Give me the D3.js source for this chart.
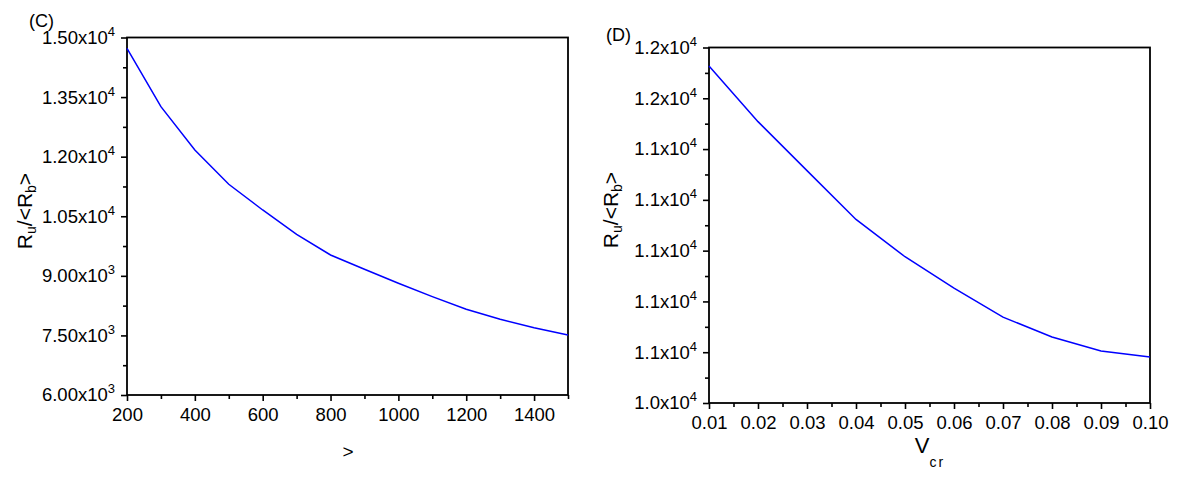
<!DOCTYPE html>
<html>
<head>
<meta charset="utf-8">
<script src="https://cdn.jsdelivr.net/npm/d3@7"></script>
<style>
  body { margin: 0; background: #fff; }
  svg { display: block; font-family: "Liberation Sans", Arial, sans-serif; }
  .tick line { stroke: #000; stroke-width: 1.6; }
</style>
</head>
<body>
<div id="chart"></div>
<script>
// Panel C data
const cX = [200, 300, 400, 500, 600, 700, 800, 900, 1000, 1100, 1200, 1300, 1400, 1500];
const cY = [14728, 13258, 12168, 11305, 10658, 10046, 9525, 9165, 8813, 8476, 8158, 7907, 7695, 7511];
const cXTicks = [200, 400, 600, 800, 1000, 1200, 1400];
const cXMinor = [300, 500, 700, 900, 1100, 1300, 1500];
const cYTicks = [6000, 7500, 9000, 10500, 12000, 13500, 15000];
const cYMinor = [6750, 8250, 9750, 11250, 12750, 14250];

// Panel D data
const dX = [0.01, 0.02, 0.03, 0.04, 0.05, 0.06, 0.07, 0.08, 0.09, 0.10];
const dY = [11727, 11508, 11315, 11123, 10976, 10852, 10738, 10660, 10605, 10581];
const dXTicks = [0.01, 0.02, 0.03, 0.04, 0.05, 0.06, 0.07, 0.08, 0.09, 0.10];
const dXMinor = [0.015, 0.025, 0.035, 0.045, 0.055, 0.065, 0.075, 0.085, 0.095];
const dYTicks = [10400, 10600, 10800, 11000, 11200, 11400, 11600, 11800];
const dYMinor = [10500, 10700, 10900, 11100, 11300, 11500, 11700];

const width = 1181;
const height = 480;
const font = "Liberation Sans, Arial, sans-serif";

const svg = d3.select("#chart")
    .append("svg")
    .attr("width", width)
    .attr("height", height);

// "1.50x10" + superscript exponent
function sciLabel(sel, digits) {
    sel.each(function(d) {
        const e = Math.floor(Math.log10(d));
        const m = (d / Math.pow(10, e)).toFixed(digits);
        const t = d3.select(this).text(null);
        t.append("tspan").text(m + "x10");
        t.append("tspan").attr("font-size", 13).attr("dy", -8).text(e);
    });
}

function styleAxis(g) {
    g.attr("font-size", 18.5).attr("font-family", font);
    g.select(".domain").remove();
    g.selectAll(".tick text").attr("fill", "#000");
}

function drawPanel(p) {
    const x = d3.scaleLinear().domain(p.xDomain).range([p.left, p.right]);
    const y = d3.scaleLinear().domain(p.yDomain).range([p.bottom, p.top]);

    // frame
    svg.append("rect")
        .attr("x", p.left).attr("y", p.top)
        .attr("width", p.right - p.left).attr("height", p.bottom - p.top)
        .attr("fill", "none").attr("stroke", "#000").attr("stroke-width", 1.8);

    // minor ticks
    svg.append("g")
        .attr("transform", `translate(0,${p.bottom})`)
        .call(d3.axisBottom(x).tickValues(p.xMinor).tickSize(4).tickFormat(""))
        .call(styleAxis);
    svg.append("g")
        .attr("transform", `translate(${p.left},0)`)
        .call(d3.axisLeft(y).tickValues(p.yMinor).tickSize(4).tickFormat(""))
        .call(styleAxis);

    // major ticks
    svg.append("g")
        .attr("transform", `translate(0,${p.bottom})`)
        .call(d3.axisBottom(x).tickValues(p.xTicks).tickSize(6).tickPadding(7).tickFormat(p.xFormat))
        .call(styleAxis);
    svg.append("g")
        .attr("transform", `translate(${p.left},0)`)
        .call(d3.axisLeft(y).tickValues(p.yTicks).tickSize(6).tickPadding(6))
        .call(styleAxis)
        .call(g => g.selectAll(".tick text").call(sciLabel, p.yDigits));

    // curve
    const line = d3.line()
        .x((d, i) => x(p.xs[i]))
        .y(d => y(d));
    svg.append("path")
        .datum(p.ys)
        .attr("d", line)
        .attr("fill", "none")
        .attr("stroke", "#0000ff")
        .attr("stroke-width", 1.5);

    // y title
    const yt = svg.append("text")
        .attr("transform", `translate(${p.yTitleX},${p.yTitleY}) rotate(-90)`)
        .attr("text-anchor", "middle")
        .attr("font-size", 21);
    yt.append("tspan").text("R");
    yt.append("tspan").attr("font-size", 14).attr("dy", 4).text("u");
    yt.append("tspan").attr("dy", -4).text("/<R");
    yt.append("tspan").attr("font-size", 14).attr("dy", 4).text("b");
    yt.append("tspan").attr("dy", -4).text(">");

    // panel letter
    svg.append("text")
        .attr("x", p.tagX).attr("y", p.tagY)
        .attr("font-size", 18)
        .text(p.tag);
}

drawPanel({
    xs: cX, ys: cY,
    xDomain: [200, 1500], yDomain: [6000, 15000],
    left: 127, right: 568, top: 37.5, bottom: 395,
    xTicks: cXTicks, xMinor: cXMinor, yTicks: cYTicks, yMinor: cYMinor,
    xFormat: d3.format("d"), yDigits: 2,
    yTitleX: 32, yTitleY: 211,
    tag: "(C)", tagX: 29, tagY: 27
});

drawPanel({
    xs: dX, ys: dY,
    xDomain: [0.01, 0.10], yDomain: [10400, 11800],
    left: 709, right: 1150, top: 47.5, bottom: 403,
    xTicks: dXTicks, xMinor: dXMinor, yTicks: dYTicks, yMinor: dYMinor,
    xFormat: d3.format(".2f"), yDigits: 1,
    yTitleX: 618, yTitleY: 210,
    tag: "(D)", tagX: 606, tagY: 41
});

// x titles
svg.append("text")
    .attr("x", 348).attr("y", 458)
    .attr("text-anchor", "middle")
    .attr("font-size", 19)
    .text(">");

const vt = svg.append("text")
    .attr("x", 930).attr("y", 453)
    .attr("text-anchor", "middle")
    .attr("font-size", 22);
vt.append("tspan").text("V");
vt.append("tspan").attr("font-size", 14).attr("dy", 14).attr("letter-spacing", 2).text("cr");
</script>
</body>
</html>
